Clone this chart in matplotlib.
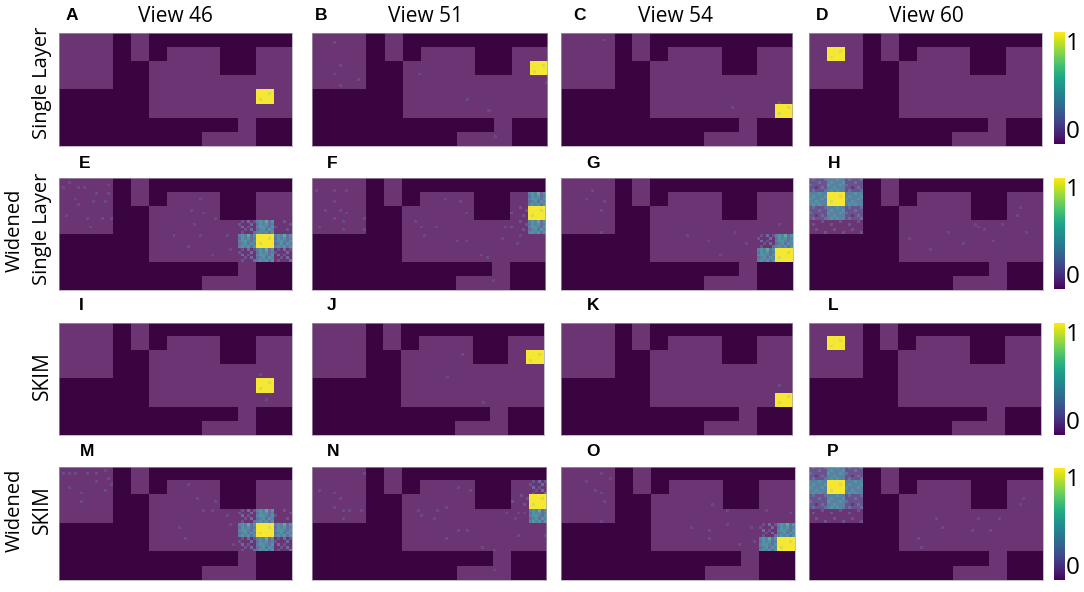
import numpy as np
import matplotlib
matplotlib.use("Agg")
import matplotlib.pyplot as plt
from matplotlib.colors import LinearSegmentedColormap, Normalize
from matplotlib.cm import ScalarMappable

# ---------- data ----------
VIEW_TITLES = ["View 46", "View 51", "View 54", "View 60"]
PANEL_LETTERS = list("ABCDEFGHIJKLMNOP")
COLORBAR_LABELS = ["0", "1"]

MAZE = [
    "1110100000000",
    "1110101110011",
    "1110011110011",
    "1110011111111",
    "0000011111111",
    "0000011111111",
    "0000000000100",
    "0000000011100",
]

TILE_HOT = ["aaaaaa", "aaaa9a", "aaaaaa", "a9aaaa", "aaaaaa"]
TILE_STRONG = ["454635", "354534", "455435", "345354", "454535"]
TILE_MEDIUM = ["121312", "211131", "131211", "112131", "121113"]
TILE_WEAK = ["111211", "111112", "211111", "111121", "111111"]
TILE_SMOOTH = ["444544", "454445", "544454", "445444", "454544"]
TILE_SOFT = ["232223", "222322", "322222", "221232", "232223"]
TILE_FAINT = ["111121", "121111", "111111", "112111", "111112"]
TILES = {"H": TILE_HOT, "S": TILE_STRONG, "M": TILE_MEDIUM, "W": TILE_WEAK,
         "T": TILE_SMOOTH, "O": TILE_SOFT, "F": TILE_FAINT}

# (row, column, tile)
CELLS_A = [(4, 11, "H")]
CELLS_B = [(2, 12, "H")]
CELLS_C = [(5, 12, "H")]
CELLS_D = [(1, 1, "H")]
CELLS_E = [(4, 11, "H"), (3, 11, "S"), (5, 11, "S"), (4, 10, "S"), (4, 12, "S"),
           (3, 10, "M"), (3, 12, "W"), (5, 10, "M"), (5, 12, "M")]
CELLS_F = [(2, 12, "H"), (1, 12, "S"), (3, 12, "S"), (2, 11, "W"), (3, 11, "W")]
CELLS_G = [(5, 12, "H"), (4, 12, "S"), (5, 11, "S"), (4, 11, "M")]
CELLS_H = [(1, 1, "H"), (0, 1, "T"), (2, 1, "T"), (1, 0, "T"), (1, 2, "T"),
           (0, 0, "O"), (0, 2, "O"), (2, 0, "O"), (2, 2, "O"),
           (3, 0, "F"), (3, 1, "F"), (3, 2, "F")]
CELLS_I = [(4, 11, "H")]
CELLS_J = [(2, 12, "H")]
CELLS_K = [(5, 12, "H")]
CELLS_L = [(1, 1, "H")]
CELLS_M = [(4, 11, "H"), (3, 11, "S"), (5, 11, "S"), (4, 10, "S"), (4, 12, "S"),
           (3, 10, "M"), (3, 12, "W"), (5, 10, "M"), (5, 12, "M")]
CELLS_N = [(2, 12, "H"), (1, 12, "M"), (3, 12, "S"), (2, 11, "W")]
CELLS_O = [(5, 12, "H"), (4, 12, "S"), (5, 11, "S"), (4, 11, "M")]
CELLS_P = [(1, 1, "H"), (0, 1, "T"), (2, 1, "T"), (1, 0, "T"), (1, 2, "T"),
           (0, 0, "O"), (0, 2, "O"), (2, 0, "O"), (2, 2, "O"),
           (3, 0, "F"), (3, 1, "F"), (3, 2, "F")]

# isolated brighter pixels (fine column, fine row)
SPECKS_A = []
SPECKS_B = [(9, 11), (7, 14), (9, 18), (35, 14), (15, 16), (7, 3), (51, 23),
            (77, 17), (58, 27), (60, 36)]
SPECKS_C = [(73, 24), (57, 26), (14, 2)]
SPECKS_D = []
SPECKS_E = [(1, 3), (6, 3), (8, 3), (16, 2), (15, 8), (6, 9), (11, 8), (16, 5),
            (5, 7), (2, 13), (14, 14), (9, 14), (17, 14), (3, 1), (12, 5), (10, 17),
            (44, 11), (47, 7), (48, 12), (52, 14), (38, 20), (43, 24), (47, 20),
            (56, 20), (57, 25), (51, 27), (60, 17), (62, 22), (45, 16), (64, 24)]
SPECKS_F = [(1, 4), (7, 4), (11, 4), (7, 8), (9, 11), (4, 11), (11, 12), (7, 14),
            (10, 15), (17, 14), (2, 17), (10, 18), (17, 18), (44, 7), (49, 8),
            (51, 12), (34, 15), (36, 17), (41, 17), (48, 22), (51, 22), (37, 20),
            (56, 27), (58, 28), (64, 17), (60, 36), (69, 20), (68, 23), (63, 21)]
SPECKS_G = [(10, 4), (8, 7), (14, 8), (13, 11), (13, 19), (42, 20), (49, 22),
            (53, 27), (62, 23), (58, 19), (73, 16)]
SPECKS_H = [(70, 10), (69, 13), (56, 17), (64, 16), (72, 19), (40, 25), (61, 22),
            (33, 21), (46, 19), (55, 16), (58, 18), (51, 23)]
SPECKS_I = [(67, 18), (69, 27)]
SPECKS_J = [(50, 11), (57, 28), (45, 19)]
SPECKS_K = [(73, 22)]
SPECKS_L = []
SPECKS_M = [(1, 2), (5, 2), (9, 2), (15, 1), (16, 4), (7, 9), (15, 8), (7, 12),
            (3, 7), (12, 5), (17, 6), (3, 2), (12, 2), (46, 11), (48, 15),
            (51, 15), (43, 6), (42, 25), (40, 21), (56, 17), (57, 20), (58, 27),
            (52, 12), (60, 19), (62, 24)]
SPECKS_N = [(2, 8), (7, 9), (9, 11), (10, 15), (7, 14), (12, 15), (16, 15), (10, 18),
            (17, 2), (35, 15), (41, 15), (36, 17), (40, 18), (44, 14), (48, 22),
            (51, 22), (44, 25), (56, 28), (60, 29), (68, 16), (64, 16), (70, 16),
            (67, 18), (68, 24), (77, 24), (60, 36), (52, 8), (48, 7)]
SPECKS_O = [(13, 2), (8, 5), (16, 4), (13, 9), (14, 12), (11, 8), (13, 19), (55, 15),
            (55, 20), (49, 22), (49, 25), (59, 27), (43, 21), (68, 15), (76, 16),
            (63, 21), (64, 26), (50, 13)]
SPECKS_P = [(56, 18), (60, 22), (37, 28), (36, 25), (44, 21), (70, 13), (71, 11),
            (42, 18), (54, 22), (63, 18)]

PANEL_CELLS = [CELLS_A, CELLS_B, CELLS_C, CELLS_D, CELLS_E, CELLS_F, CELLS_G, CELLS_H,
               CELLS_I, CELLS_J, CELLS_K, CELLS_L, CELLS_M, CELLS_N, CELLS_O, CELLS_P]
PANEL_SPECKS = [SPECKS_A, SPECKS_B, SPECKS_C, SPECKS_D, SPECKS_E, SPECKS_F, SPECKS_G, SPECKS_H,
                SPECKS_I, SPECKS_J, SPECKS_K, SPECKS_L, SPECKS_M, SPECKS_N, SPECKS_O, SPECKS_P]

# ---------- layout (pixels) ----------
W, H = 1084, 592
PANEL_BOXES = [
    (59, 33, 291.5, 146), (311.7, 33, 547.3, 146), (560.7, 33, 792.3, 146), (809.3, 33, 1042, 146),
    (59, 178, 292, 290), (311.7, 178, 545, 290), (560.7, 178, 792.7, 290), (809.3, 178, 1043, 290),
    (59, 322.5, 292, 435), (312, 322.5, 543.7, 435), (561, 322.5, 792, 435), (809.3, 322.5, 1041, 435),
    (59, 466.7, 291.5, 580), (311.7, 466.7, 545.7, 580), (561, 466.7, 795, 580), (809.3, 466.7, 1043, 580),
]
CBAR_BOXES = [(1053.5, 32, 1065, 144), (1053.5, 178, 1065, 289),
              (1053.5, 323, 1065, 435), (1053.5, 468, 1065, 580)]
LETTER_POS = [(72, 15), (321, 15), (580, 15), (822, 15),
              (85, 163), (332, 163), (593, 163), (834, 163),
              (81, 306), (332, 306), (593, 306), (833, 306),
              (87, 451), (333, 451), (593, 451), (833, 451)]
TITLE_POS = [(175, 16.5), (426, 16.5), (676, 16.5), (926, 16.5)]
ROW_LABELS = [("Single Layer", 42, 83), ("Widened", 15, 230), ("Single Layer", 42, 229),
              ("SKIM", 42, 376), ("Widened", 15, 510), ("SKIM", 42, 510)]

SUB_X, SUB_Y = 6, 5
BASE_LEVEL = 0.12
SPECK_LEVEL = 0.19

panel_cmap = LinearSegmentedColormap.from_list("panel", [
    (0.00, "#39043f"), (0.12, "#6c3575"), (0.30, "#6a6aa2"),
    (0.55, "#4b9ca2"), (0.80, "#9fd46a"), (1.00, "#f7e735")])


def build_field(cells, specks):
    rows, cols = len(MAZE), len(MAZE[0])
    field = np.zeros((rows * SUB_Y, cols * SUB_X))
    for r, line in enumerate(MAZE):
        for c, ch in enumerate(line):
            if ch == "1":
                field[r * SUB_Y:(r + 1) * SUB_Y, c * SUB_X:(c + 1) * SUB_X] = BASE_LEVEL
    for r, c, name in cells:
        for j, tline in enumerate(TILES[name]):
            for i, ch in enumerate(tline):
                field[r * SUB_Y + j, c * SUB_X + i] = 1.0 if ch == "a" else int(ch) / 10 + 0.02
    for x, y in specks:
        if field[y, x] == BASE_LEVEL:
            field[y, x] = SPECK_LEVEL
    return field


def box_axes(fig, box):
    x0, y0, x1, y1 = box
    return fig.add_axes([x0 / W, 1 - y1 / H, (x1 - x0) / W, (y1 - y0) / H])


fig = plt.figure(figsize=(W / 100, H / 100), dpi=100, facecolor="white")
norm = Normalize(0, 1)

for box, cells, specks in zip(PANEL_BOXES, PANEL_CELLS, PANEL_SPECKS):
    ax = box_axes(fig, box)
    ax.imshow(build_field(cells, specks), cmap=panel_cmap, norm=norm, aspect="auto",
              interpolation="nearest", extent=(0, len(MAZE[0]), len(MAZE), 0))
    ax.set_xticks([])
    ax.set_yticks([])
    for s in ax.spines.values():
        s.set_color("#a89fae")
        s.set_linewidth(0.5)

for box in CBAR_BOXES:
    cax = box_axes(fig, box)
    cb = fig.colorbar(ScalarMappable(norm=norm, cmap="viridis"), cax=cax)
    cb.outline.set_visible(False)
    cb.set_ticks([0, 1])
    cb.set_ticklabels(COLORBAR_LABELS)
    cax.tick_params(length=0, pad=0.5, labelsize=17.5)
    labels = cax.get_yticklabels()
    labels[0].set_va("bottom")
    labels[1].set_va("top")
    for lab in labels:
        lab.set_family("Open Sans")

for letter, (x, y) in zip(PANEL_LETTERS, LETTER_POS):
    fig.text(x / W, 1 - y / H, letter, family="Liberation Sans", weight="bold",
             fontsize=12.5, ha="center", va="center", color="black")

for title, (x, y) in zip(VIEW_TITLES, TITLE_POS):
    fig.text(x / W, 1 - y / H, title, family="Open Sans", fontsize=15,
             ha="center", va="center", color="black")

for text, x, y, size in [(t, x, y, 14.5 if t != "SKIM" else 15) for t, x, y in ROW_LABELS]:
    fig.text(x / W, 1 - y / H, text, family="Open Sans", fontsize=size,
             rotation=90, ha="center", va="center", color="black")

fig.savefig("out.png", dpi=100, facecolor="white")
